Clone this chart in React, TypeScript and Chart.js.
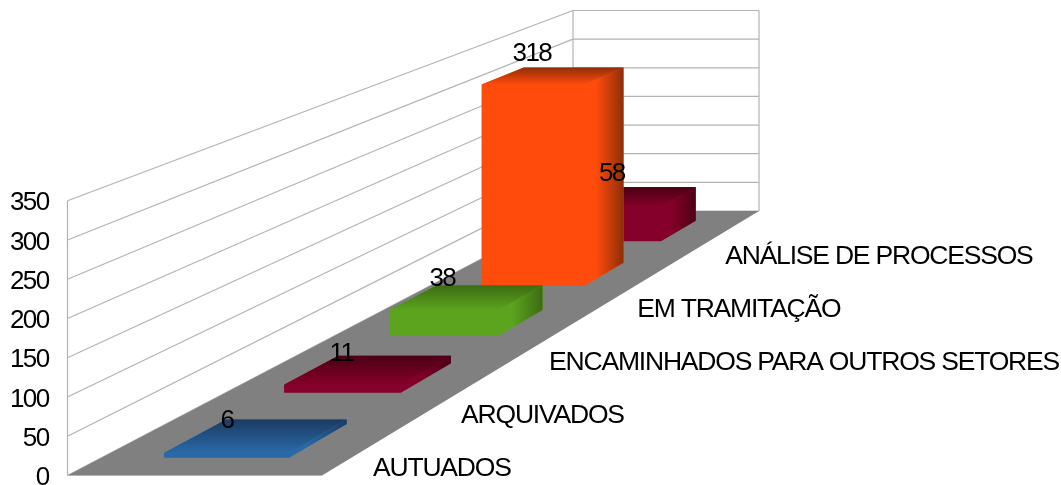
import React, { useEffect, useRef } from "react";
import { Chart, registerables } from "chart.js";

Chart.register(...registerables);

const categories = ["AUTUADOS", "ARQUIVADOS", "ENCAMINHADOS PARA OUTROS SETORES", "EM TRAMITAÇÃO", "ANÁLISE DE PROCESSOS"];
const values = [6, 11, 38, 318, 58];
const barColors = ["#2a69a8", "#85002a", "#5ca41e", "#ff4b0c", "#85002a"];
const topColors = ["#1b3b62", "#4c0016", "#3c6c12", "#8f2e08", "#4c0016"];
const yTicks = [0, 50, 100, 150, 200, 250, 300, 350];

const DIGIT_FONT = '26px "Liberation Sans"';
const TEXT_FONT = '26.5px "Liberation Sans"';
const DIGIT_SPACING = "-1.6px";
const TEXT_SPACING = "-1.2px";

const threeD = {
  id: "threeD",
  beforeDraw(chart: any) {
    const ctx = chart.ctx;
    ctx.letterSpacing = DIGIT_SPACING;
    const s = chart.scales.y;
    if (!s.__shifted) {
      const orig = s.drawLabels.bind(s);
      s.drawLabels = (area: any) => {
        ctx.save();
        ctx.translate(0, 2.5);
        orig(area);
        ctx.restore();
      };
      s.__shifted = true;
    }
  },
  beforeDatasetsDraw(chart: any) {
    const { ctx, chartArea, scales } = chart;
    const yS = scales.y;
    const xS = scales.x;
    const L = chartArea.left, R = chartArea.right;
    const y0 = yS.getPixelForValue(0);
    const backL = 573, backR = 759, backFloor = 211, backTop = 10.5;
    const k = 0.368;
    const hShrink = 1 - (backFloor - backTop) / (y0 - yS.getPixelForValue(350));
    const wShrink = 1 - (backR - backL) / (R - L);
    const sOf = (d: number) => (d * (1 + k)) / (1 + k * d);
    const P = (u: number, d: number, v: number): [number, number] => {
      const s = sOf(d);
      const x = L + (backL - L) * s + u * (R - L) * (1 - wShrink * s);
      const y = y0 - (y0 - backFloor) * s - (y0 - yS.getPixelForValue(v)) * (1 - hShrink * s);
      return [x, y];
    };
    const poly = (pts: [number, number][], fill: any) => {
      ctx.beginPath();
      pts.forEach((p, i) => (i ? ctx.lineTo(p[0], p[1]) : ctx.moveTo(p[0], p[1])));
      ctx.closePath();
      ctx.fillStyle = fill;
      ctx.fill();
    };
    const line = (a: [number, number], b: [number, number]) => {
      ctx.beginPath();
      ctx.moveTo(a[0], a[1]);
      ctx.lineTo(b[0], b[1]);
      ctx.stroke();
    };
    ctx.save();
    // walls
    ctx.strokeStyle = "#b3b3b3";
    ctx.lineWidth = 1.2;
    yTicks.forEach((t) => {
      const a = P(0, 0, t), b = P(0, 1, t), c = P(1, 1, t);
      line(a, b);
      line(b, c);
    });
    line(P(0, 0, 0), P(0, 0, 350));
    line(P(0, 1, 0), P(0, 1, 350));
    line(P(1, 1, 0), P(1, 1, 350));
    // floor
    poly([P(0, 0, 0), P(1, 0, 0), P(1, 1, 0), P(0, 1, 0)], "#808080");
    line(P(0, 0, 0), P(1, 0, 0));
    // bars, back to front
    const u0 = 0.25, u1 = 0.75, half = 0.05;
    const depthOf = (i: number) => (xS.getPixelForValue(i) - L) / (R - L);
    for (let i = values.length - 1; i >= 0; i--) {
      const v = values[i];
      const d = depthOf(i);
      const df = d - half, db = d + half;
      const base = barColors[i], dark = topColors[i];
      const ftl = P(u0, df, v), ftr = P(u1, df, v), fbl = P(u0, df, 0), fbr = P(u1, df, 0);
      const btl = P(u0, db, v), btr = P(u1, db, v), bbr = P(u1, db, 0);
      poly([fbl, ftl, btl, btr, bbr, fbr], base);
      const gt = ctx.createLinearGradient(0, ftl[1], 0, btl[1]);
      gt.addColorStop(0, base);
      gt.addColorStop(1, dark);
      poly([ftl, ftr, btr, btl], gt);
      const gr = ctx.createLinearGradient(ftr[0], 0, btr[0], 0);
      gr.addColorStop(0, base);
      gr.addColorStop(0.3, base);
      gr.addColorStop(1, dark);
      poly([ftr, btr, bbr, fbr], gr);
    }
    // value labels
    ctx.font = DIGIT_FONT;
    ctx.fillStyle = "#000";
    ctx.textAlign = "center";
    ctx.textBaseline = "middle";
    ctx.letterSpacing = DIGIT_SPACING;
    values.forEach((v, i) => {
      const db = depthOf(i) + half;
      const p = P(u0, db, v);
      ctx.fillText(String(v), p[0] + 12 * db - 1, p[1] - 17 * db + 4 - v * 0.015);
    });
    // category labels
    ctx.font = TEXT_FONT;
    ctx.letterSpacing = TEXT_SPACING;
    ctx.textAlign = "left";
    const band = (R - L) / categories.length;
    categories.forEach((c, i) => {
      ctx.fillText(c, 373 + i * band * 1.73, y0 - 7 - i * band * 1.041);
    });
    ctx.restore();
    return false;
  },
};

export default function App() {
  const ref = useRef<HTMLCanvasElement>(null);
  useEffect(() => {
    const chart = new Chart(ref.current as HTMLCanvasElement, {
      type: "bar",
      data: {
        labels: categories,
        datasets: [{ data: values, backgroundColor: barColors }],
      },
      options: {
        animation: false,
        responsive: false,
        layout: { padding: { left: 0, top: 200.7, right: 739, bottom: 9.5 } },
        plugins: { legend: { display: false }, tooltip: { enabled: false } },
        scales: {
          x: { display: false },
          y: {
            min: 0,
            max: 350,
            afterFit(scale: any) {
              scale.width = 67.5;
              scale.paddingTop = 0;
              scale.paddingBottom = 0;
            },
            grid: { display: false },
            border: { display: false },
            ticks: {
              stepSize: 50,
              autoSkip: false,
              padding: 11,
              color: "#000",
              font: { family: "Liberation Sans", size: 26 },
            },
          },
        },
      },
      plugins: [threeD],
    } as any);
    return () => chart.destroy();
  }, []);
  return (
    <div style={{ position: "absolute", left: 0, top: 0, width: 1061, height: 485, background: "#fff" }}>
      <canvas ref={ref} width={1061} height={485} style={{ display: "block" }} />
    </div>
  );
}
